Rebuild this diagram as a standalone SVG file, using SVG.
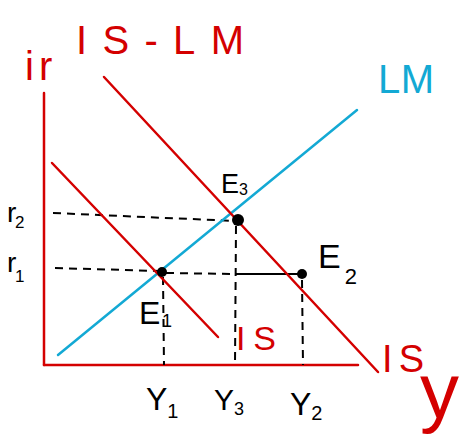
<svg xmlns="http://www.w3.org/2000/svg" width="466" height="448" viewBox="0 0 466 448">
<style>
.red{stroke:#d40000;stroke-width:2.5;fill:none;stroke-linecap:round}
.lm{stroke:#13a9d4;stroke-width:2.5;fill:none;stroke-linecap:round}
.dash{stroke:#000;stroke-width:2;fill:none;stroke-dasharray:8 6}
.solid{stroke:#000;stroke-width:2;fill:none}
.tr{fill:#d40000;font-family:"Liberation Sans",sans-serif}
.tb{fill:#000;font-family:"Liberation Sans",sans-serif}
.tc{fill:#13a9d4;font-family:"Liberation Sans",sans-serif}
</style>
<rect width="466" height="448" fill="#fff"/>
<g id="axes">
<line class="red" x1="44" y1="93" x2="44" y2="365"/>
<line class="red" x1="44" y1="365" x2="358" y2="365"/>
</g>
<g id="connectors">
<line class="dash" x1="53" y1="213" x2="236" y2="221"/>
<line class="dash" x1="55" y1="268" x2="160" y2="271"/>
<line class="dash" x1="166" y1="273" x2="236" y2="274"/>
<line class="solid" x1="236" y1="274" x2="299" y2="274"/>
<line class="dash" x1="236" y1="226" x2="235" y2="365"/>
<line class="dash" x1="163" y1="277" x2="164" y2="365"/>
<line class="dash" x1="302" y1="280" x2="303" y2="365" stroke-dasharray="4 4"/>
</g>
<g id="curves">
<line class="lm" x1="58" y1="355" x2="357" y2="110"/>
<line class="red" x1="52" y1="163" x2="218" y2="337"/>
<line class="red" x1="104" y1="77" x2="378" y2="372"/>
</g>
<g id="points">
<circle cx="162" cy="272" r="5" fill="#000"/>
<circle cx="238" cy="220" r="6" fill="#000"/>
<circle cx="302" cy="274" r="5" fill="#000"/>
</g>
<g id="labels">
<text class="tr" x="76" y="54" font-size="40" textLength="168" lengthAdjust="spacing">IS-LM</text>
<text class="tr" x="25" y="80" font-size="40" letter-spacing="5">ir</text>
<text class="tc" x="378" y="93" font-size="40" textLength="56" lengthAdjust="spacing">LM</text>
<text class="tb" x="221" y="193" font-size="27">E<tspan font-size="16" dy="2">3</tspan></text>
<text class="tb" x="318" y="268" font-size="34">E<tspan font-size="22" dx="4" dy="16">2</tspan></text>
<text class="tb" x="139" y="324" font-size="32">E</text>
<text class="tb" x="162" y="327" font-size="18">1</text>
<text class="tr" x="236" y="350" font-size="34" textLength="40" lengthAdjust="spacing">IS</text>
<text class="tr" x="382" y="372" font-size="38" textLength="42" lengthAdjust="spacing">IS</text>
<text class="tr" x="420" y="418" font-size="78">y</text>
<text class="tb" x="146" y="410" font-size="32">Y<tspan font-size="20" dy="8">1</tspan></text>
<text class="tb" x="214" y="410" font-size="30">Y<tspan font-size="18" dy="5">3</tspan></text>
<text class="tb" x="290" y="415" font-size="32">Y<tspan font-size="20" dy="5">2</tspan></text>
<text class="tb" x="7" y="222" font-size="28">r</text>
<text class="tb" x="15" y="228" font-size="17">2</text>
<text class="tb" x="7" y="272" font-size="28">r</text>
<text class="tb" x="15" y="282" font-size="17">1</text>
</g>
</svg>
